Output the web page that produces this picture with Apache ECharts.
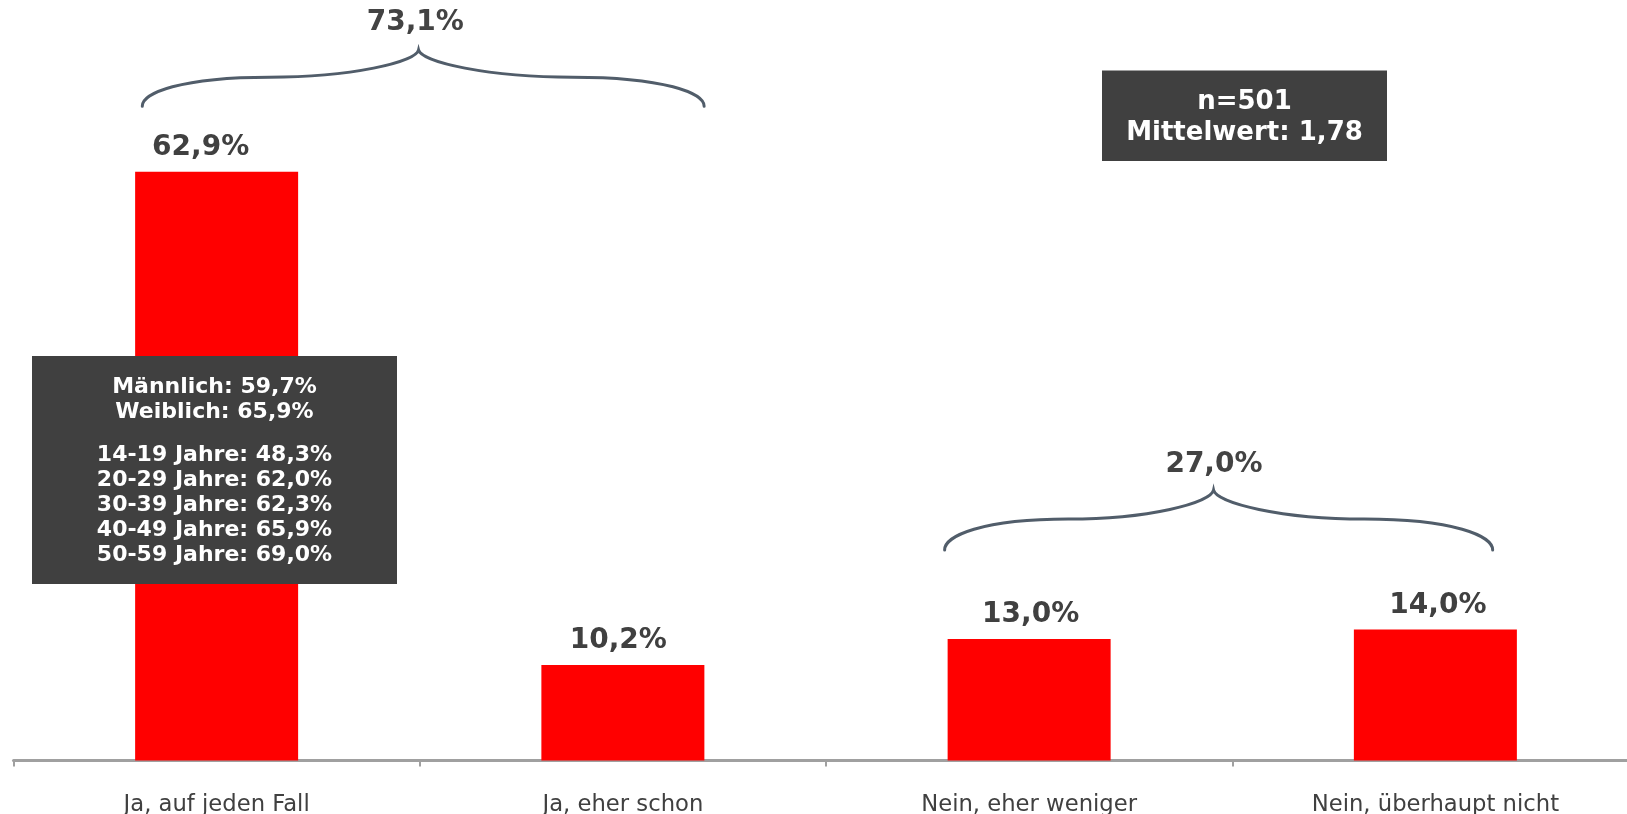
<!DOCTYPE html>
<html>
<head>
<meta charset="utf-8">
<script src="https://cdn.jsdelivr.net/npm/echarts@6/dist/echarts.min.js"></script>
<style>
html,body{margin:0;padding:0;background:#fff;}
#main{width:1627px;height:814px;}
</style>
</head>
<body>
<div id="main"></div>
<script>
// ---- data ----
const categories = ['Ja, auf jeden Fall', 'Ja, eher schon', 'Nein, eher weniger', 'Nein, überhaupt nicht'];
const values = [62.9, 10.2, 13.0, 14.0];

// brace annotations (x in category units, y in value units)
const braceTotals = [73.1, 27.0];
const braceFrom = [-0.183, 1.792];
const braceTip = [0.497, 2.454];
const braceTo = [1.200, 3.141];
const braceTextX = [0.489, 2.455];
const braceEndY = [69.9, 22.5];
const braceFlatY = [73.0, 25.8];
const braceTipY = [75.9, 28.9];
const braceTextY = [78.8, 31.6];

// info boxes
const genderLines = ['Männlich: 59,7%', 'Weiblich: 65,9%'];
const ageLines = ['14-19 Jahre: 48,3%', '20-29 Jahre: 62,0%', '30-39 Jahre: 62,3%', '40-49 Jahre: 65,9%', '50-59 Jahre: 69,0%'];
const infoLines = ['n=501', 'Mittelwert: 1,78'];

// horizontal nudge of each value label (px), as in the original
const labelShift = [-16, -4.6, 1.5, 2.5];

const fmt = v => v.toFixed(1).replace('.', ',') + '%';
const FONT = '"DejaVu Sans", Verdana, sans-serif';
const chart = echarts.init(document.getElementById('main'));

function renderBrace(params, api) {
  const i = params.dataIndex;
  const c0 = api.coord([0, 0]);
  const bw = api.size([1, 0])[0];
  const X = v => c0[0] + v * bw;
  const Y = v => api.coord([0, v])[1];
  const x0 = X(braceFrom[i]), x1 = X(braceTo[i]), xm = X(braceTip[i]);
  const yE = Y(braceEndY[i]), yF = Y(braceFlatY[i]), yT = Y(braceTipY[i]);
  const H1 = xm - x0, H2 = x1 - xm;
  const xq = x0 + 0.46 * H1, xq2 = x1 - 0.46 * H2;
  const dxL = xq - x0, dxR = x1 - xq2, dy = yE - yF;
  const dxL2 = xm - xq, dxR2 = xq2 - xm, dy2 = yF - yT;
  const p = [
    'M', x0, yE,
    'C', x0, yE - 0.45 * dy, x0 + 0.3 * dxL, yF, xq, yF,
    'C', xq + 0.55 * dxL2, yF, xm - 0.02 * dxL2, yT + 0.45 * dy2, xm, yT,
    'C', xm + 0.02 * dxR2, yT + 0.45 * dy2, xq2 - 0.55 * dxR2, yF, xq2, yF,
    'C', x1 - 0.3 * dxR, yF, x1, yE - 0.45 * dy, x1, yE
  ].join(' ');
  return {
    type: 'group',
    children: [
      { type: 'path', shape: { pathData: p }, style: { fill: 'none', stroke: '#515d6a', lineWidth: 3, lineCap: 'round' } },
      { type: 'text', x: X(braceTextX[i]), y: Y(braceTextY[i]), style: { text: fmt(braceTotals[i]), fill: '#434343', font: 'bold 28px ' + FONT, align: 'center', verticalAlign: 'middle' } }
    ]
  };
}

const option = {
  animation: false,
  backgroundColor: '#ffffff',
  textStyle: { fontFamily: FONT },
  grid: { left: 13.5, top: 11.6, width: 1625, height: 749, containLabel: false, outerBoundsMode: 'none' },
  xAxis: {
    type: 'category',
    data: categories,
    axisLine: { lineStyle: { color: '#a0a0a0', width: 3 } },
    axisTick: { show: true, length: 6, lineStyle: { color: '#a0a0a0', width: 2 } },
    axisLabel: { interval: 0, margin: 33, fontSize: 22.7, color: '#404040', fontFamily: FONT }
  },
  yAxis: { type: 'value', min: 0, max: 80, show: false, splitLine: { show: false } },
  series: [
    {
      type: 'bar',
      data: values.map((v, i) => ({ value: v, label: { offset: [labelShift[i], 0] } })),
      barWidth: 163,
      itemStyle: { color: '#ff0000' },
      label: {
        show: true, position: 'top', distance: 10,
        formatter: p => fmt(p.value),
        fontSize: 28, fontWeight: 'bold', color: '#404040', fontFamily: FONT
      }
    },
    {
      type: 'custom',
      data: braceTotals.map((t, i) => [i, t]),
      renderItem: renderBrace,
      clip: false,
      silent: true,
      z: 5
    }
  ],
  graphic: [
    { type: 'rect', z: 100, shape: { x: 32, y: 356, width: 365, height: 228 }, style: { fill: '#404040' } },
    { type: 'text', z: 101, x: 214.5, y: 400, style: { text: genderLines.join('\n'), fill: '#ffffff', font: 'bold 22px ' + FONT, align: 'center', verticalAlign: 'middle', lineHeight: 24.5 } },
    { type: 'text', z: 101, x: 214.5, y: 505.5, style: { text: ageLines.join('\n'), fill: '#ffffff', font: 'bold 22px ' + FONT, align: 'center', verticalAlign: 'middle', lineHeight: 25 } },
    { type: 'rect', z: 100, shape: { x: 1102, y: 70.5, width: 285, height: 90.5 }, style: { fill: '#404040' } },
    { type: 'text', z: 101, x: 1244.5, y: 118, style: { text: infoLines.join('\n'), fill: '#ffffff', font: 'bold 26px ' + FONT, align: 'center', verticalAlign: 'middle', lineHeight: 31 } }
  ]
};
chart.setOption(option);
</script>
</body>
</html>
